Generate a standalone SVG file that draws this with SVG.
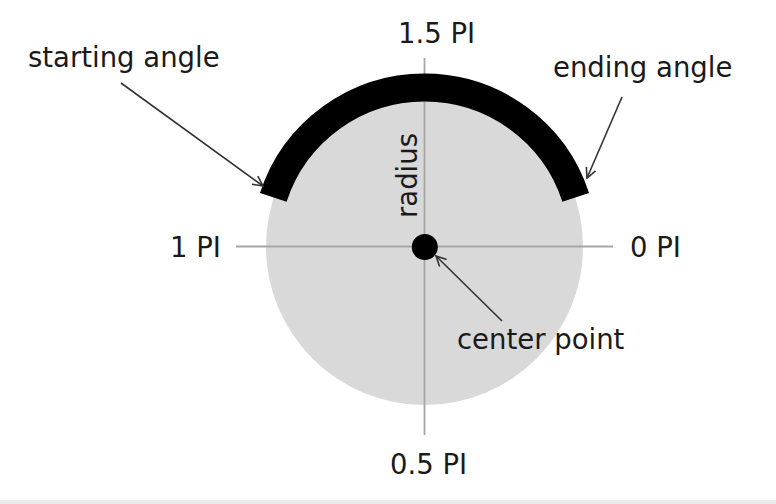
<svg xmlns="http://www.w3.org/2000/svg" width="776" height="504" viewBox="0 0 776 504">
<style>
text{font-family:"DejaVu Sans","Liberation Sans",sans-serif;font-size:27.5px;fill:#1a1a1a}
.axis{stroke:#a6a6a6;stroke-width:1.8;fill:none}
.conn{stroke:#333;stroke-width:1.6;fill:none;marker-end:url(#ah)}
</style>
<defs>
<marker id="ah" viewBox="0 0 12 12" refX="11" refY="6" markerWidth="12" markerHeight="12" markerUnits="userSpaceOnUse" orient="auto">
<path d="M1,1 L11,6 L1,11" fill="none" stroke="#333" stroke-width="1.6"/>
</marker>
</defs>
<rect x="0" y="0" width="776" height="504" fill="#fff"/>
<rect x="0" y="500" width="776" height="4" fill="#ebebeb"/>
<g id="circle"><circle cx="424.5" cy="246.5" r="158.5" fill="#d9d9d9"/></g>
<g id="axes">
<line class="axis" x1="236" y1="246.5" x2="613" y2="246.5"/>
<line class="axis" x1="424.5" y1="58" x2="424.5" y2="435"/>
</g>
<g id="arc"><path d="M273.3,197.4 A159,159 0 0 1 575.7,197.4" fill="none" stroke="#000" stroke-width="28"/></g>
<g id="center"><circle cx="424.8" cy="247" r="13" fill="#000"/></g>
<g id="labels">
<text x="398" y="43">1.5 PI</text>
<text x="170" y="257">1 PI</text>
<text x="630" y="257">0 PI</text>
<text x="390" y="474">0.5 PI</text>
<text x="28" y="67">starting angle</text>
<text x="553" y="77">ending angle</text>
<text x="457" y="349">center point</text>
<text transform="translate(417,218) rotate(-90)">radius</text>
</g>
<g id="connectors">
<line class="conn" x1="121" y1="83" x2="263" y2="186"/>
<line class="conn" x1="622" y1="97" x2="587" y2="178"/>
<line class="conn" x1="502" y1="321" x2="436" y2="256"/>
</g>
</svg>
